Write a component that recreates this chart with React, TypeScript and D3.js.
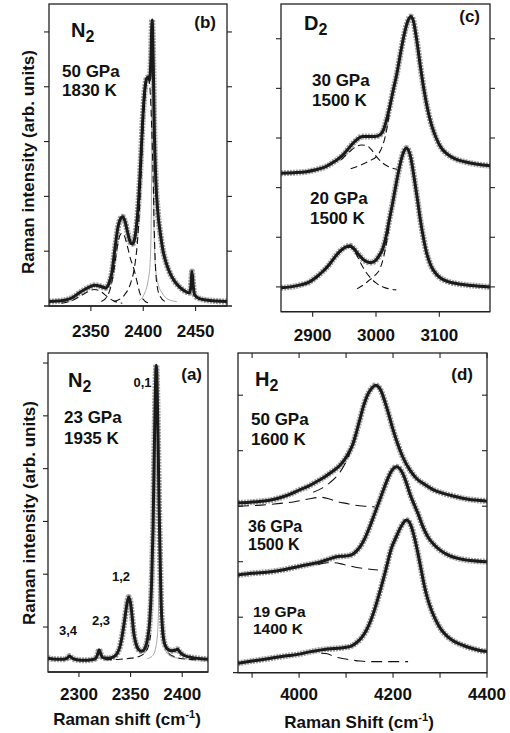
import React from 'react';
import * as d3 from 'd3';

type P = [number, number];

// ---------- Panel (b): N2, 50 GPa, 1830 K ----------
const bXTicks = [2350, 2400, 2450];
const bYTicks = [1, 2, 3, 4, 5];
const bFit: P[] = [[2310,0.08],[2318,0.09],[2326,0.11],[2333,0.16],[2339,0.24],[2344,0.3],[2349,0.35],[2354,0.38],[2359,0.36],[2364,0.33],[2367,0.4],[2370,0.6],[2373,1.05],[2376,1.45],[2378.5,1.6],[2380.3,1.63],[2382.5,1.55],[2385,1.35],[2387.5,1.17],[2389.5,1.13],[2391.5,1.2],[2393.5,1.45],[2395.5,1.9],[2397.5,2.6],[2399.5,3.4],[2401.5,3.95],[2403.3,4.15],[2405,4.18],[2406.2,4.12],[2407.3,4.5],[2408.5,5.22],[2409.6,4.4],[2410.6,3.2],[2412,2.3],[2414,1.7],[2416.5,1.3],[2419,1.0],[2422,0.78],[2426,0.58],[2430,0.45],[2435,0.34],[2440,0.27],[2444,0.24],[2445.5,0.35],[2446.6,0.63],[2447.7,0.38],[2449.2,0.2],[2453,0.14],[2460,0.11],[2470,0.09],[2480,0.08]];
const bComp1: P[] = [[2322,0.05],[2332,0.1],[2340,0.18],[2347,0.26],[2353,0.3],[2359,0.27],[2365,0.18],[2371,0.1],[2380,0.05]];
const bComp2: P[] = [[2360,0.08],[2365,0.16],[2369,0.35],[2372,0.65],[2375,1.05],[2378,1.3],[2380,1.33],[2382,1.28],[2385,1.08],[2388,0.85],[2391,0.68],[2394,0.45],[2397,0.22],[2401,0.1],[2406,0.05]];
const bComp3: P[] = [[2372,0.08],[2382,0.2],[2388,0.42],[2392,0.75],[2395,1.3],[2397.5,2.2],[2399.5,3.1],[2401.5,3.8],[2403.5,4.12],[2405,4.15],[2406.5,3.95],[2408,3.3],[2409.5,2.3],[2410.5,1.4],[2411.5,0.8],[2413,0.4],[2416,0.18],[2421,0.08]];
const bNarrow: P[] = [[2396,0.1],[2401,0.22],[2404.5,0.45],[2406.5,0.75],[2407.6,1.5],[2408.3,3.3],[2408.8,5.0],[2409.4,3.3],[2410.2,1.5],[2411.5,0.75],[2414,0.42],[2418,0.24],[2424,0.12],[2432,0.08]];

// ---------- Panel (c): D2 ----------
const cXTicks = [2900, 3000, 3100];
const cYTicks = [0, 1, 2, 3, 4, 5];
const cUpperFit: P[] = [[2850,2.29],[2870,2.3],[2890,2.32],[2905,2.36],[2920,2.42],[2935,2.53],[2948,2.66],[2960,2.84],[2970,2.97],[2978,3.03],[2988,3.03],[2998,3.03],[3006,3.06],[3012,3.17],[3017,3.38],[3022,3.65],[3027,3.95],[3033,4.3],[3040,4.8],[3046,5.17],[3051,5.38],[3055,5.45],[3059,5.36],[3064,5.0],[3070,4.45],[3076,3.95],[3082,3.55],[3088,3.25],[3095,3.0],[3103,2.8],[3112,2.68],[3125,2.58],[3140,2.52],[3160,2.47],[3180,2.44]];
const cUpperSmall: P[] = [[2945,2.56],[2958,2.72],[2968,2.82],[2977,2.86],[2985,2.85],[2993,2.76],[3001,2.62],[3010,2.5],[3020,2.42],[3033,2.37]];
const cUpperMain: P[] = [[2960,2.38],[2977,2.46],[2990,2.54],[3001,2.63],[3009,2.8],[3015,3.05],[3020,3.4],[3024,3.75]];
const cLowerFit: P[] = [[2850,-0.02],[2865,0.0],[2881,0.04],[2895,0.1],[2905,0.19],[2915,0.3],[2925,0.43],[2935,0.6],[2945,0.74],[2952,0.8],[2959,0.83],[2965,0.77],[2972,0.66],[2980,0.55],[2987,0.5],[2992,0.49],[2999,0.53],[3005,0.63],[3011,0.78],[3016,1.02],[3021,1.35],[3026,1.67],[3031,2.02],[3036,2.35],[3041,2.62],[3045,2.76],[3048,2.8],[3051,2.76],[3055,2.6],[3060,2.22],[3065,1.8],[3070,1.35],[3075,0.98],[3080,0.68],[3087,0.42],[3095,0.26],[3103,0.17],[3115,0.1],[3130,0.06],[3150,0.03],[3180,0.0]];
const cLowerSmall: P[] = [[2905,0.17],[2920,0.35],[2935,0.58],[2945,0.72],[2952,0.78],[2959,0.8],[2966,0.72],[2973,0.55],[2980,0.38],[2990,0.2],[3000,0.08],[3015,-0.02],[3032,-0.06]];
const cLowerMain: P[] = [[2970,-0.04],[2980,0.04],[2990,0.14],[2999,0.24],[3006,0.36],[3012,0.6],[3017,0.92],[3021,1.25]];

// ---------- Panel (a): N2, 23 GPa, 1935 K ----------
const aXTicks = [2300, 2350, 2400];
const aYTicks = [1, 2, 3, 4, 5, 6];
const aFit: P[] = [[2270,0.41],[2278,0.39],[2285,0.39],[2288.5,0.41],[2291,0.45],[2293.5,0.41],[2298,0.38],[2305,0.37],[2312,0.38],[2316,0.4],[2318,0.48],[2319.5,0.57],[2321,0.5],[2323,0.42],[2328,0.41],[2333,0.43],[2337,0.5],[2340,0.65],[2342,0.85],[2344,1.1],[2346,1.38],[2348.2,1.57],[2350,1.45],[2351.5,1.2],[2353,0.9],[2355,0.7],[2357.5,0.58],[2361,0.54],[2364,0.6],[2366.5,0.78],[2368.5,1.1],[2370.3,1.8],[2371.8,2.9],[2373.2,4.6],[2374.9,5.96],[2376.5,4.7],[2377.6,3.3],[2378.6,2.3],[2379.6,1.45],[2381,0.95],[2383,0.68],[2386,0.58],[2390,0.55],[2393,0.56],[2395.5,0.58],[2398,0.52],[2402,0.46],[2410,0.42],[2418,0.4],[2425,0.39]];
const aCompLeft: P[] = [[2325,0.38],[2340,0.39],[2351,0.41],[2358,0.44],[2363,0.5],[2367,0.62],[2369.5,0.85]];
const aCompRight: P[] = [[2380.5,0.9],[2383,0.68],[2387,0.5],[2392,0.44],[2397,0.41],[2405,0.39],[2416,0.38]];
const aNarrow: P[] = [[2366,0.4],[2371,0.45],[2374,0.58],[2376,0.85],[2377.3,1.5],[2378.2,2.5],[2378.8,3.0],[2379.4,2.5],[2380.2,1.5],[2381.5,0.85],[2383.5,0.58],[2387,0.47],[2393,0.42],[2400,0.4]];

// ---------- Panel (d): H2 ----------
const dXTicks = [4000, 4200, 4400];
const dXMinor = [3900, 4100, 4300];
const dYTicks = [1, 2, 3, 4, 5];
const dTopFit: P[] = [[3870,3.06],[3895,3.07],[3920,3.09],[3940,3.11],[3966,3.17],[3985,3.23],[4000,3.29],[4020,3.36],[4037,3.44],[4055,3.53],[4070,3.62],[4085,3.72],[4097,3.84],[4107,3.98],[4115,4.13],[4122,4.33],[4129,4.55],[4137,4.8],[4144,4.97],[4150,5.07],[4156,5.14],[4163,5.18],[4169,5.15],[4175,5.07],[4182,4.9],[4190,4.68],[4200,4.38],[4210,4.12],[4220,3.9],[4236,3.65],[4250,3.5],[4266,3.4],[4285,3.3],[4307,3.23],[4330,3.18],[4350,3.14],[4375,3.11],[4400,3.09]];
const dTopHump: P[] = [[3870,3.0],[3920,3.02],[3960,3.05],[3990,3.08],[4020,3.13],[4047,3.16],[4065,3.13],[4082,3.08],[4100,3.05],[4118,3.02],[4140,3.0],[4161,2.99]];
const dTopMain: P[] = [[4030,3.25],[4050,3.33],[4065,3.42],[4078,3.52],[4090,3.65],[4100,3.8],[4108,3.95]];
const dMidFit: P[] = [[3870,1.76],[3900,1.79],[3940,1.82],[3970,1.86],[3997,1.91],[4020,1.95],[4047,2.0],[4065,2.05],[4080,2.09],[4095,2.1],[4105,2.11],[4115,2.14],[4122,2.19],[4130,2.27],[4140,2.42],[4150,2.62],[4161,2.87],[4172,3.12],[4182,3.35],[4190,3.52],[4198,3.65],[4207,3.71],[4214,3.68],[4220,3.6],[4228,3.43],[4236,3.22],[4245,3.03],[4253,2.87],[4263,2.64],[4274,2.45],[4288,2.3],[4303,2.19],[4320,2.11],[4338,2.06],[4365,2.02],[4400,2.0]];
const dMidHump: P[] = [[4040,1.95],[4060,1.98],[4075,1.98],[4095,1.95],[4120,1.9],[4145,1.87],[4168,1.85]];
const dBotFit: P[] = [[3870,0.17],[3900,0.21],[3940,0.26],[3970,0.3],[3997,0.33],[4025,0.38],[4054,0.42],[4082,0.44],[4100,0.46],[4111,0.48],[4122,0.54],[4132,0.62],[4143,0.76],[4153,0.95],[4163,1.2],[4175,1.55],[4186,1.9],[4196,2.23],[4207,2.45],[4215,2.6],[4222,2.7],[4228,2.75],[4234,2.72],[4239,2.63],[4246,2.42],[4253,2.15],[4260,1.85],[4267,1.55],[4274,1.32],[4282,1.12],[4292,0.93],[4303,0.77],[4316,0.65],[4331,0.56],[4350,0.49],[4367,0.44],[4385,0.4],[4400,0.38]];
const dBotHump: P[] = [[4047,0.35],[4060,0.34],[4075,0.29],[4095,0.25],[4111,0.23],[4130,0.21],[4153,0.2],[4200,0.2],[4232,0.2]];

const FONT = '"Liberation Sans", Arial, Helvetica, sans-serif';

type Kind = 'fit' | 'dash' | 'thin' | 'longdash';
interface Curve { data: P[]; kind: Kind }
interface Label { x: number; y: number; lines?: string[]; size?: number; anchor?: string; main?: string; sub?: string; lh?: number }
interface PanelProps {
  id: string;
  x0: number; y0: number; x1: number; y1: number;
  xDomain: [number, number]; yDomain: [number, number];
  xTicks: number[]; xMinor?: number[]; yTicks: number[];
  leftTicks: 'out' | 'in' | 'none'; rightTicks: 'out' | 'in' | 'none';
  topTicks?: boolean; bottomExtendLeft?: number; bottomExtendRight?: number;
  tickLabelY: number;
  curves: Curve[];
  labels: Label[];
}

function Panel(p: PanelProps) {
  const x = d3.scaleLinear().domain(p.xDomain).range([p.x0, p.x1]);
  const y = d3.scaleLinear().domain(p.yDomain).range([p.y1, p.y0]);
  const line = d3.line<P>().x(d => x(d[0])).y(d => y(d[1])).curve(d3.curveMonotoneX);
  const T = 5;
  const allX = [...p.xTicks, ...(p.xMinor || [])];
  return (
    <g>
      <defs>
        <clipPath id={'clip-' + p.id}>
          <rect x={p.x0} y={p.y0} width={p.x1 - p.x0} height={p.y1 - p.y0} />
        </clipPath>
      </defs>
      <g clipPath={`url(#clip-${p.id})`}>
        {p.curves.filter(c => c.kind === 'fit').map((c, i) => (
          <path key={'g' + i} d={line(c.data) || ''} fill="none" stroke="#a0a0a0" strokeWidth={6} strokeLinejoin="round" strokeDasharray="2,1" />
        ))}
        {p.curves.filter(c => c.kind === 'thin').map((c, i) => (
          <path key={'t' + i} d={line(c.data) || ''} fill="none" stroke="#a8a8a8" strokeWidth={1} />
        ))}
        {p.curves.filter(c => c.kind === 'fit').map((c, i) => (
          <path key={'f' + i} d={line(c.data) || ''} fill="none" stroke="#1a1a1a" strokeWidth={3} strokeLinejoin="round" />
        ))}
        {p.curves.filter(c => c.kind === 'dash' || c.kind === 'longdash').map((c, i) => (
          <path key={'d' + i} d={line(c.data) || ''} fill="none" stroke="#111" strokeWidth={1.1}
            strokeDasharray={c.kind === 'dash' ? '7,4' : '11,6'} />
        ))}
      </g>
      <rect x={p.x0} y={p.y0} width={p.x1 - p.x0} height={p.y1 - p.y0} fill="none" stroke="#222" strokeWidth={1.3} />
      <line x1={p.x0 - (p.bottomExtendLeft || 0)} x2={p.x1 + (p.bottomExtendRight || 0)} y1={p.y1} y2={p.y1} stroke="#222" strokeWidth={1.3} />
      {p.yTicks.map(t => (
        <g key={'y' + t}>
          {p.leftTicks !== 'none' && (
            <line x1={p.x0} x2={p.leftTicks === 'out' ? p.x0 - T : p.x0 + T} y1={y(t)} y2={y(t)} stroke="#222" strokeWidth={1.1} />
          )}
          {p.rightTicks !== 'none' && (
            <line x1={p.x1} x2={p.rightTicks === 'out' ? p.x1 + T : p.x1 - T} y1={y(t)} y2={y(t)} stroke="#222" strokeWidth={1.1} />
          )}
        </g>
      ))}
      {allX.map(t => (
        <g key={'x' + t}>
          <line x1={x(t)} x2={x(t)} y1={p.y1} y2={p.y1 + T} stroke="#222" strokeWidth={1.1} />
          {p.topTicks && <line x1={x(t)} x2={x(t)} y1={p.y0} y2={p.y0 + T} stroke="#222" strokeWidth={1.1} />}
        </g>
      ))}
      {p.xTicks.map(t => (
        <text key={'xl' + t} x={x(t)} y={p.tickLabelY} textAnchor="middle" fontFamily={FONT} fontWeight="bold" fontSize={17} fill="#111">{t}</text>
      ))}
      {p.labels.map((l, i) => {
        if (l.main) {
          return (
            <text key={'l' + i} x={l.x} y={l.y} fontFamily={FONT} fontWeight="bold" fontSize={l.size || 20} fill="#111">
              <tspan>{l.main}</tspan>
              <tspan dy={5} fontSize={(l.size || 20) * 0.8}>{l.sub}</tspan>
            </text>
          );
        }
        return (
          <text key={'l' + i} x={l.x} y={l.y} fontFamily={FONT} fontWeight="bold" fontSize={l.size || 17} fill="#111" textAnchor={l.anchor || 'start'}>
            {(l.lines || []).map((s, j) => (
              <tspan key={j} x={l.x} dy={j === 0 ? 0 : (l.lh || 20)}>{s}</tspan>
            ))}
          </text>
        );
      })}
    </g>
  );
}

export default function App() {
  return (
    <svg width={510} height={733} style={{ position: 'absolute', left: 0, top: 0, background: '#fff' }}>
      <rect x={0} y={0} width={510} height={733} fill="#fff" />
      {/* (b) */}
      <Panel id="b" x0={49} y0={4} x1={227} y1={306} xDomain={[2310, 2480]} yDomain={[0, 5.51]}
        xTicks={bXTicks} yTicks={bYTicks} leftTicks="out" rightTicks="out" bottomExtendLeft={5} bottomExtendRight={5}
        tickLabelY={337}
        curves={[{ data: bNarrow, kind: 'thin' }, { data: bFit, kind: 'fit' }, { data: bComp1, kind: 'dash' }, { data: bComp2, kind: 'dash' }, { data: bComp3, kind: 'dash' }]}
        labels={[
          { x: 71, y: 37, main: 'N', sub: '2', size: 20 },
          { x: 62, y: 77, lines: ['50 GPa', '1830 K'], lh: 19 },
          { x: 216, y: 28, lines: ['(b)'], anchor: 'end', size: 17 },
        ]} />
      {/* (c) */}
      <Panel id="c" x0={281} y0={4} x1={490} y1={311.7} xDomain={[2850, 3180]} yDomain={[-0.5, 5.7]}
        xTicks={cXTicks} yTicks={cYTicks} leftTicks="out" rightTicks="out"
        tickLabelY={341}
        curves={[{ data: cUpperFit, kind: 'fit' }, { data: cLowerFit, kind: 'fit' },
          { data: cUpperSmall, kind: 'dash' }, { data: cUpperMain, kind: 'dash' },
          { data: cLowerSmall, kind: 'dash' }, { data: cLowerMain, kind: 'dash' }]}
        labels={[
          { x: 304, y: 30, main: 'D', sub: '2', size: 20 },
          { x: 312, y: 86, lines: ['30 GPa', '1500 K'], lh: 20 },
          { x: 310, y: 204, lines: ['20 GPa', '1500 K'], lh: 20 },
          { x: 480, y: 22, lines: ['(c)'], anchor: 'end', size: 17 },
        ]} />
      {/* (a) */}
      <Panel id="a" x0={48} y0={353} x1={208} y1={672} xDomain={[2270, 2425]} yDomain={[0.148, 6.19]}
        xTicks={aXTicks} yTicks={aYTicks} leftTicks="out" rightTicks="none"
        tickLabelY={700}
        curves={[{ data: aNarrow, kind: 'thin' }, { data: aFit, kind: 'fit' }, { data: aCompLeft, kind: 'dash' }, { data: aCompRight, kind: 'dash' }]}
        labels={[
          { x: 68, y: 387, main: 'N', sub: '2', size: 20 },
          { x: 64, y: 423, lines: ['23 GPa', '1935 K'], lh: 20.5 },
          { x: 202, y: 380, lines: ['(a)'], anchor: 'end', size: 17 },
          { x: 142.5, y: 387, lines: ['0,1'], anchor: 'middle', size: 13 },
          { x: 121, y: 581, lines: ['1,2'], anchor: 'middle', size: 13 },
          { x: 101, y: 625, lines: ['2,3'], anchor: 'middle', size: 13 },
          { x: 68, y: 635, lines: ['3,4'], anchor: 'middle', size: 13 },
        ]} />
      {/* (d) */}
      <Panel id="d" x0={238} y0={353} x1={487} y1={672.7} xDomain={[3870, 4400]} yDomain={[0, 5.76]}
        xTicks={dXTicks} xMinor={dXMinor} yTicks={dYTicks} leftTicks="in" rightTicks="in" topTicks={true}
        bottomExtendLeft={5} tickLabelY={700}
        curves={[{ data: dTopFit, kind: 'fit' }, { data: dMidFit, kind: 'fit' }, { data: dBotFit, kind: 'fit' },
          { data: dTopHump, kind: 'longdash' }, { data: dTopMain, kind: 'longdash' },
          { data: dMidHump, kind: 'longdash' }, { data: dBotHump, kind: 'longdash' }]}
        labels={[
          { x: 255, y: 386, main: 'H', sub: '2', size: 20 },
          { x: 251, y: 425, lines: ['50 GPa', '1600 K'], lh: 20 },
          { x: 248, y: 532, lines: ['36 GPa', '1500 K'], lh: 17.5, size: 16 },
          { x: 253, y: 617, lines: ['19 GPa', '1400 K'], lh: 16.5, size: 15.5 },
          { x: 473, y: 380, lines: ['(d)'], anchor: 'end', size: 17 },
        ]} />
      {/* axis titles */}
      <text transform="translate(34,162) rotate(-90)" textAnchor="middle" fontFamily={FONT} fontWeight="bold" fontSize={17} fill="#111">Raman intensity (arb. units)</text>
      <text transform="translate(35,513) rotate(-90)" textAnchor="middle" fontFamily={FONT} fontWeight="bold" fontSize={17} fill="#111">Raman intensity (arb. units)</text>
      <text x={127} y={725} textAnchor="middle" fontFamily={FONT} fontWeight="bold" fontSize={17} fill="#111">
        <tspan>Raman shift (cm</tspan><tspan dy={-7} fontSize={11}>-1</tspan><tspan dy={7}>)</tspan>
      </text>
      <text x={359} y={728} textAnchor="middle" fontFamily={FONT} fontWeight="bold" fontSize={17} fill="#111">
        <tspan>Raman Shift (cm</tspan><tspan dy={-7} fontSize={11}>-1</tspan><tspan dy={7}>)</tspan>
      </text>
    </svg>
  );
}
